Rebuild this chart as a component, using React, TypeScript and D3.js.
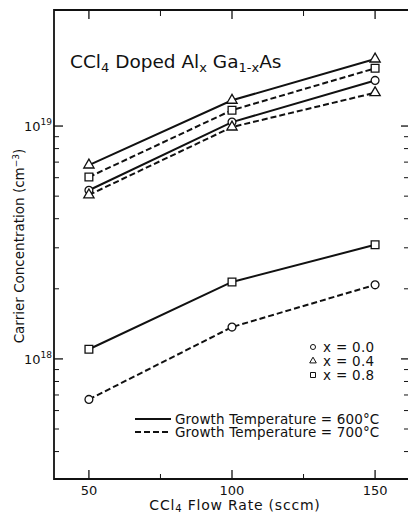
import { useRef, useEffect } from "react";
import * as d3 from "d3";

// flow rates (sccm)
const flowRates = [50, 100, 150];

// carrier concentration (cm^-3)
const x00_600 = [5.3e18, 1.04e19, 1.57e19];
const x04_600 = [6.8e18, 1.29e19, 1.94e19];
const x08_600 = [1.1e18, 2.14e18, 3.09e18];
const x00_700 = [6.7e17, 1.37e18, 2.08e18];
const x04_700 = [5.06e18, 9.9e18, 1.39e19];
const x08_700 = [6.04e18, 1.17e19, 1.77e19];

const xTicks = [50, 100, 150];
const xMinorTicks = [75, 125];
const yMajorTicks = [1e18, 1e19];
const yMinorTicks = [4e17, 5e17, 6e17, 7e17, 8e17, 9e17, 2e18, 3e18, 4e18, 5e18, 6e18, 7e18, 8e18, 9e18];

const compositionLabels = ["x = 0.0", "x = 0.4", "x = 0.8"];
const markerKinds = ["circle", "triangle", "square"];
const tempLabels = ["Growth Temperature = 600°C", "Growth Temperature = 700°C"];

export default function App() {
	const ref = useRef<HTMLDivElement>(null);

	useEffect(() => {
		const width = 408;
		const height = 513;
		const font = "'DejaVu Sans', Verdana, sans-serif";

		document.body.style.margin = "0";
		d3.select(ref.current).selectAll("*").remove();

		const svg = d3
			.select(ref.current)
			.append("svg")
			.attr("width", width)
			.attr("height", height)
			.style("display", "block")
			.style("font-family", font);

		// ---- Scales ----
		// the right edge of the frame lies just outside the picture
		const x = d3.scaleLinear().domain([37.8, 162.2]).range([54, 410]);
		const y = d3.scaleLog().domain([3.05e17, 3.15e19]).range([479, 10]);

		const left = 54, right = width, top = 10, bottom = 479;

		// ---- Frame (top, left, bottom) ----
		const frame = svg.append("g").attr("stroke", "#111").attr("fill", "none");
		frame.append("path")
			.attr("d", `M${right},${top}H${left}V${bottom}H${right}`)
			.attr("stroke-width", 1.8);

		// x ticks (bottom up, top down)
		xTicks.forEach((t) => {
			frame.append("line").attr("x1", x(t)).attr("x2", x(t)).attr("y1", bottom).attr("y2", bottom - 9).attr("stroke-width", 1.3);
			frame.append("line").attr("x1", x(t)).attr("x2", x(t)).attr("y1", top).attr("y2", top + 9).attr("stroke-width", 1.3);
		});
		xMinorTicks.forEach((t) => {
			frame.append("line").attr("x1", x(t)).attr("x2", x(t)).attr("y1", bottom).attr("y2", bottom - 5).attr("stroke-width", 1);
			frame.append("line").attr("x1", x(t)).attr("x2", x(t)).attr("y1", top).attr("y2", top + 6).attr("stroke-width", 1);
		});

		// y ticks (left and right, inward)
		yMajorTicks.forEach((t) => {
			frame.append("line").attr("x1", left).attr("x2", left + 9).attr("y1", y(t)).attr("y2", y(t)).attr("stroke-width", 1.3);
			frame.append("line").attr("x1", right).attr("x2", right - 7).attr("y1", y(t)).attr("y2", y(t)).attr("stroke-width", 1.3);
		});
		yMinorTicks.forEach((t) => {
			frame.append("line").attr("x1", left).attr("x2", left + 5).attr("y1", y(t)).attr("y2", y(t)).attr("stroke-width", 1);
			frame.append("line").attr("x1", right).attr("x2", right - 4).attr("y1", y(t)).attr("y2", y(t)).attr("stroke-width", 1);
		});

		// ---- Tick labels ----
		xTicks.forEach((t) => {
			svg.append("text")
				.attr("x", x(t))
				.attr("y", 495)
				.attr("text-anchor", "middle")
				.attr("font-size", 13)
				.attr("fill", "#111")
				.text(t);
		});

		yMajorTicks.forEach((t) => {
			const lbl = svg.append("text")
				.attr("x", 52)
				.attr("y", y(t) + 5)
				.attr("text-anchor", "end")
				.attr("font-size", 13)
				.attr("fill", "#111");
			lbl.append("tspan").text("10");
			lbl.append("tspan").attr("dy", -6).attr("font-size", 9).text(Math.round(Math.log10(t)));
		});

		// ---- Axis labels ----
		const xl = svg.append("text")
			.attr("x", 235)
			.attr("y", 510)
			.attr("text-anchor", "middle")
			.attr("font-size", 14)
			.attr("letter-spacing", 0.8)
			.attr("fill", "#111");
		xl.append("tspan").text("CCl");
		xl.append("tspan").attr("dy", 2).attr("font-size", 10).text("4");
		xl.append("tspan").attr("dy", -2).text(" Flow Rate  (sccm)");

		const yl = svg.append("text")
			.attr("transform", "translate(24,246) rotate(-90)")
			.attr("text-anchor", "middle")
			.attr("font-size", 13.5)
			.attr("fill", "#111");
		yl.append("tspan").text("Carrier Concentration  (cm");
		yl.append("tspan").attr("dy", -5).attr("font-size", 9).text("−3");
		yl.append("tspan").attr("dy", 5).text(")");

		// ---- Title ----
		const title = svg.append("text")
			.attr("x", 70)
			.attr("y", 68)
			.attr("font-size", 18.5)
			.attr("fill", "#111");
		title.append("tspan").text("CCl");
		title.append("tspan").attr("dy", 4).attr("font-size", 13).text("4");
		title.append("tspan").attr("dy", -4).text(" Doped Al");
		title.append("tspan").attr("dy", 4).attr("font-size", 13).text("x");
		title.append("tspan").attr("dy", -4).text(" Ga");
		title.append("tspan").attr("dy", 4).attr("font-size", 13).text("1-x");
		title.append("tspan").attr("dy", -4).text("As");

		// ---- Series ----
		const series = [
			{ values: x00_600, marker: "circle", dashed: false },
			{ values: x04_600, marker: "triangle", dashed: false },
			{ values: x08_600, marker: "square", dashed: false },
			{ values: x00_700, marker: "circle", dashed: true },
			{ values: x04_700, marker: "triangle", dashed: true },
			{ values: x08_700, marker: "square", dashed: true },
		];

		const line = d3
			.line<number>()
			.x((d, i) => x(flowRates[i]))
			.y((d) => y(d));

		series.forEach((s) => {
			svg.append("path")
				.attr("d", line(s.values))
				.attr("fill", "none")
				.attr("stroke", "#111")
				.attr("stroke-width", 2)
				.attr("stroke-dasharray", s.dashed ? "6,3" : null);
		});

		const symbolFor = (kind, size) => {
			if (kind === "triangle") return d3.symbol(d3.symbolTriangle, size * 0.95)();
			if (kind === "square") return d3.symbol(d3.symbolSquare, size * 1.25)();
			return d3.symbol(d3.symbolCircle, size)();
		};

		series.forEach((s) => {
			s.values.forEach((v, i) => {
				svg.append("path")
					.attr("d", symbolFor(s.marker, 48))
					.attr("transform", `translate(${x(flowRates[i])},${y(v)})`)
					.attr("fill", "#fff")
					.attr("stroke", "#111")
					.attr("stroke-width", 1.3);
			});
		});

		// ---- Legend (composition) ----
		compositionLabels.forEach((lbl, i) => {
			const cy = 347 + i * 14;
			svg.append("path")
				.attr("d", symbolFor(markerKinds[i], 20))
				.attr("transform", `translate(313,${cy})`)
				.attr("fill", "#fff")
				.attr("stroke", "#111")
				.attr("stroke-width", 1);
			svg.append("text")
				.attr("x", 323)
				.attr("y", cy + 5)
				.attr("font-size", 13.5)
				.attr("letter-spacing", 0.3)
				.attr("fill", "#111")
				.text(lbl);
		});

		// ---- Legend (temperature) ----
		tempLabels.forEach((lbl, i) => {
			const cy = 419 + i * 13;
			svg.append("line")
				.attr("x1", 135)
				.attr("x2", 171)
				.attr("y1", cy)
				.attr("y2", cy)
				.attr("stroke", "#111")
				.attr("stroke-width", 2)
				.attr("stroke-dasharray", i === 1 ? "6,3" : null);
			svg.append("text")
				.attr("x", 175)
				.attr("y", cy + 5)
				.attr("font-size", 13.5)
				.attr("letter-spacing", 0.15)
				.attr("fill", "#111")
				.text(lbl);
		});
	}, []);

	return <div ref={ref} />;
}
